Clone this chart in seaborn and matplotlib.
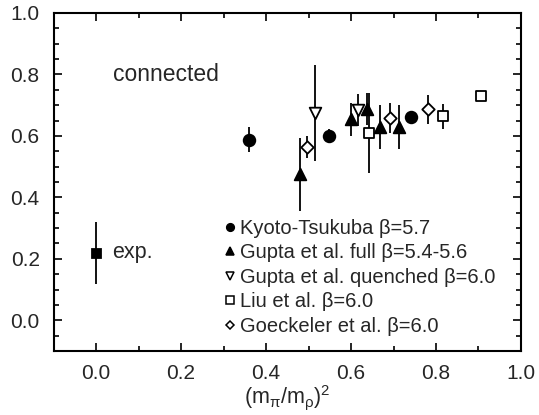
import numpy as np
import pandas as pd
import matplotlib
matplotlib.use("Agg")
import matplotlib.pyplot as plt
import seaborn as sns

# ---- data ----
kyoto_x = [0.360, 0.548, 0.740]
kyoto_y = [0.588, 0.601, 0.662]
kyoto_err = [0.040, 0.020, 0.012]

gupta_full_x = [0.480, 0.600, 0.638, 0.668, 0.713]
gupta_full_y = [0.475, 0.654, 0.689, 0.630, 0.630]
gupta_full_err = [0.118, 0.053, 0.052, 0.072, 0.072]

gupta_q_x = [0.515, 0.617]
gupta_q_y = [0.675, 0.683]
gupta_q_err = [0.157, 0.052]

liu_x = [0.643, 0.817, 0.906]
liu_y = [0.610, 0.664, 0.731]
liu_err = [0.130, 0.040, 0.0]

goeck_x = [0.496, 0.692, 0.782]
goeck_y = [0.564, 0.659, 0.686]
goeck_err = [0.035, 0.048, 0.048]

exp_x = [0.0]
exp_y = [0.219]
exp_err = [0.100]

labels = ["Kyoto-Tsukuba β=5.7", "Gupta et al. full β=5.4-5.6",
          "Gupta et al. quenched β=6.0", "Liu et al. β=6.0",
          "Goeckeler et al. β=6.0"]

sns.set_theme(style="ticks")
plt.rcParams['font.family'] = ['Liberation Sans', 'DejaVu Sans']
plt.rcParams['mathtext.fontset'] = 'custom'
plt.rcParams['mathtext.rm'] = 'Liberation Sans'
plt.rcParams['mathtext.it'] = 'Liberation Sans:italic'
plt.rcParams['mathtext.default'] = 'regular'

fig = plt.figure(figsize=(5.39, 4.15), dpi=100)
ax = fig.add_axes([0.0993, 0.1542, 0.8673, 0.8145])

series = [
    (kyoto_x, kyoto_y, kyoto_err, 'o', 'black', 70),
    (gupta_full_x, gupta_full_y, gupta_full_err, '^', 'black', 70),
    (gupta_q_x, gupta_q_y, gupta_q_err, 'v', 'white', 70),
    (liu_x, liu_y, liu_err, 's', 'white', 55),
    (goeck_x, goeck_y, goeck_err, 'D', 'white', 40),
]

handles = []
for (xs, ys, es, mk, fc, sz), lab in zip(series, labels):
    ax.errorbar(xs, ys, yerr=es, fmt='none', ecolor='black', elinewidth=1.3, zorder=1)
    sns.scatterplot(x=xs, y=ys, marker=mk, s=sz, facecolor=fc, edgecolor='black',
                    linewidth=1.3, ax=ax, zorder=3)
    handles.append(plt.Line2D([], [], marker=mk, ls='none', markerfacecolor=fc,
                              markeredgecolor='black', markeredgewidth=1.1,
                              markersize=5.5 if mk != 'D' else 4.2, label=lab))

# experimental point
ax.errorbar(exp_x, exp_y, yerr=exp_err, fmt='none', ecolor='black', elinewidth=1.3, zorder=1)
sns.scatterplot(x=exp_x, y=exp_y, marker='s', s=50, color='black', edgecolor='black',
                ax=ax, zorder=3)

ax.text(0.038, 0.22, "exp.", fontsize=15.5, va='center', ha='left')
ax.text(0.041, 0.80, "connected", fontsize=16.5, va='center', ha='left')

ax.legend(handles=handles, loc='lower left', bbox_to_anchor=(0.355, 0.045),
          frameon=False, fontsize=14.5, handletextpad=0.0, labelspacing=0.27,
          borderpad=0, borderaxespad=0, handlelength=1.0)

ax.set_xlim(-0.1, 1.0)
ax.set_ylim(-0.1, 1.0)
ax.set_xticks(np.arange(0, 1.01, 0.2))
ax.set_yticks(np.arange(0, 1.01, 0.2))
ax.set_xticks(np.arange(-0.1, 1.01, 0.1), minor=True)
ax.set_yticks(np.arange(-0.1, 1.01, 0.05), minor=True)
ax.xaxis.set_major_formatter(matplotlib.ticker.FormatStrFormatter('%.1f'))
ax.yaxis.set_major_formatter(matplotlib.ticker.FormatStrFormatter('%.1f'))
ax.tick_params(which='both', direction='in', top=True, right=True, labelsize=15,
               width=1.2, color='black')
ax.tick_params(which='major', length=6)
ax.tick_params(axis='y', which='major', pad=10)
ax.tick_params(axis='x', which='major', pad=9)
ax.tick_params(which='minor', length=3.5)
for sp in ax.spines.values():
    sp.set_linewidth(1.5)
    sp.set_color('black')

ax.set_xlabel(r'(m$_\pi$/m$_\rho$)$^2$', fontsize=15.5, labelpad=0)

fig.savefig("out.png", dpi=100)
